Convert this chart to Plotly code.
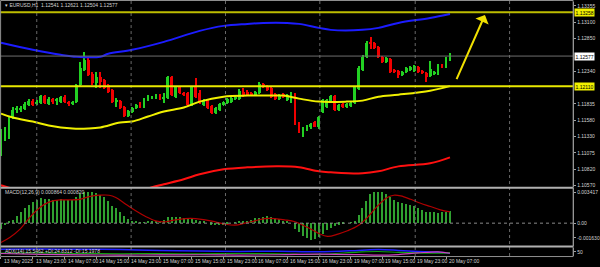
import plotly.graph_objects as go

# ---------------- data ----------------
bars = list(range(114))
opens = [1.11050,1.11282,1.11328,1.11622,1.11746,1.11746,1.11762,1.11823,1.11885,1.11839,
         1.11854,1.11963,1.11839,1.11916,1.11885,1.11870,1.11947,1.11870,1.11839,1.11870,
         1.12133,1.12365,1.12520,1.12303,1.12164,1.12257,1.12210,1.12133,1.12056,1.11870,
         1.11885,1.11792,1.11653,1.11715,1.11777,1.11854,1.11792,1.11916,1.11932,1.11932,
         1.11978,1.11916,1.11932,1.12257,1.11947,1.12102,1.12009,1.12009,1.11823,1.12102,
         1.12009,1.11823,1.11901,1.11808,1.11700,1.11746,1.11823,1.11854,1.11870,1.11916,
         1.11916,1.12025,1.12025,1.12009,1.11978,1.12009,1.12148,1.12117,1.12086,1.11994,
         1.11916,1.11994,1.11901,1.11870,1.11994,1.11545,1.11390,1.11437,1.11468,1.11560,
         1.11468,1.11715,1.11792,1.11870,1.11963,1.11746,1.11839,1.11792,1.11808,1.11854,
         1.12071,1.12365,1.12566,1.12783,1.12783,1.12721,1.12566,1.12489,1.12535,1.12365,
         1.12349,1.12288,1.12334,1.12365,1.12349,1.12411,1.12349,1.12318,1.12272,1.12303,
         1.12303,1.12442,1.12411,1.12541]
highs = [1.11437,1.11483,1.11653,1.11792,1.11808,1.11808,1.11870,1.11916,1.11916,1.11901,
         1.11978,1.11978,1.11947,1.11932,1.11932,1.11963,1.11978,1.11885,1.11885,1.12148,
         1.12489,1.12643,1.12551,1.12334,1.12334,1.12334,1.12226,1.12148,1.12071,1.11932,
         1.11901,1.11808,1.11746,1.11792,1.11839,1.11870,1.11932,1.11978,1.11963,1.11994,
         1.11994,1.12009,1.12272,1.12272,1.12117,1.12117,1.12025,1.12025,1.12117,1.12241,
         1.12056,1.11916,1.11916,1.11823,1.11792,1.11854,1.11885,1.11932,1.11947,1.11963,
         1.12071,1.12086,1.12056,1.12025,1.12040,1.12179,1.12164,1.12133,1.12102,1.12009,
         1.11994,1.12009,1.11994,1.12025,1.12009,1.11560,1.11483,1.11514,1.11545,1.11576,
         1.11653,1.11916,1.11916,1.11978,1.11978,1.11839,1.11854,1.11854,1.11870,1.12117,
         1.12427,1.12597,1.12814,1.12875,1.12798,1.12736,1.12582,1.12566,1.12551,1.12380,
         1.12365,1.12349,1.12411,1.12427,1.12442,1.12427,1.12365,1.12334,1.12504,1.12349,
         1.12458,1.12458,1.12566,1.12621]
lows = [1.11019,1.11251,1.11297,1.11607,1.11700,1.11715,1.11746,1.11808,1.11808,1.11823,
        1.11839,1.11839,1.11823,1.11839,1.11823,1.11854,1.11854,1.11808,1.11823,1.11854,
        1.12117,1.12349,1.12272,1.12133,1.12086,1.12086,1.12071,1.12009,1.11854,1.11792,
        1.11762,1.11638,1.11638,1.11700,1.11762,1.11777,1.11777,1.11885,1.11916,1.11916,
        1.11901,1.11854,1.11916,1.11963,1.11932,1.11994,1.11963,1.11808,1.11808,1.11932,
        1.11839,1.11808,1.11762,1.11684,1.11684,1.11731,1.11808,1.11839,1.11854,1.11901,
        1.11901,1.11947,1.11963,1.11963,1.11963,1.11994,1.12086,1.12040,1.11932,1.11901,
        1.11901,1.11932,1.11885,1.11854,1.11514,1.11375,1.11313,1.11421,1.11452,1.11468,
        1.11452,1.11700,1.11777,1.11854,1.11731,1.11731,1.11777,1.11777,1.11792,1.11839,
        1.12056,1.12349,1.12551,1.12690,1.12690,1.12551,1.12473,1.12473,1.12318,1.12318,
        1.12241,1.12272,1.12318,1.12349,1.12334,1.12318,1.12303,1.12179,1.12257,1.12288,
        1.12288,1.12396,1.12396,1.12504]
closes = [1.11313,1.11359,1.11622,1.11746,1.11762,1.11777,1.11839,1.11885,1.11823,1.11870,
          1.11963,1.11854,1.11916,1.11870,1.11901,1.11947,1.11870,1.11839,1.11870,1.12133,
          1.12396,1.12520,1.12288,1.12164,1.12257,1.12179,1.12086,1.12025,1.11870,1.11885,
          1.11777,1.11653,1.11731,1.11777,1.11823,1.11792,1.11916,1.11947,1.11947,1.11978,
          1.11916,1.11947,1.12257,1.11978,1.12102,1.12009,1.11978,1.11823,1.12102,1.11947,
          1.11854,1.11901,1.11777,1.11700,1.11777,1.11839,1.11870,1.11916,1.11932,1.11947,
          1.12040,1.11978,1.11978,1.11978,1.12025,1.12148,1.12102,1.12056,1.11947,1.11916,
          1.11978,1.11947,1.11978,1.12009,1.11529,1.11390,1.11452,1.11499,1.11529,1.11483,
          1.11638,1.11901,1.11901,1.11963,1.11746,1.11823,1.11792,1.11839,1.11854,1.12102,
          1.12396,1.12566,1.12783,1.12767,1.12705,1.12566,1.12489,1.12551,1.12334,1.12334,
          1.12288,1.12334,1.12396,1.12411,1.12427,1.12334,1.12318,1.12257,1.12380,1.12334,
          1.12442,1.12411,1.12551,1.12577]

# moving averages / bands (sampled along the curves)
yellow_x = [0, 3, 8, 12, 18, 22, 25, 30, 33, 37, 41, 46, 50, 56, 62, 67, 71, 75, 80, 87, 91, 95, 100, 108, 113]
yellow_y = [1.11684, 1.11622, 1.11560, 1.11499, 1.11452, 1.11452, 1.11468, 1.11545, 1.11560, 1.11638,
            1.11715, 1.11777, 1.11870, 1.11947, 1.11963, 1.11963, 1.11963, 1.11916, 1.11870, 1.11870,
            1.11885, 1.11947, 1.11978, 1.12040, 1.12110]
blue_x = [0, 8, 15, 19, 25, 27, 33, 41, 50, 56, 62, 66, 72, 75, 80, 83, 91, 95, 100, 108, 113]
blue_y = [1.12783, 1.12674, 1.12597, 1.12566, 1.12566, 1.12612, 1.12674, 1.12798, 1.12968, 1.13046,
          1.13077, 1.13092, 1.13092, 1.13077, 1.13015, 1.12984, 1.12984, 1.13015, 1.13092, 1.13169, 1.13231]
red_x = [0, 8, 15, 19, 25, 33, 38, 41, 46, 50, 56, 62, 70, 75, 80, 83, 91, 95, 100, 108, 113]
red_y = [1.10570, 1.10447, 1.10462, 1.10338, 1.10369, 1.10447, 1.10539, 1.10586, 1.10663, 1.10741,
         1.10818, 1.10849, 1.10864, 1.10849, 1.10787, 1.10772, 1.10756, 1.10787, 1.10864, 1.10911, 1.11004]

level_top = 1.13258
level_low = 1.12110
bid = 1.12577
arrow_from = (114.5, 1.12195)
arrow_to = (121.8, 1.13216)

price_ticks = [1.13355, 1.13100, 1.12850, 1.12340, 1.11835, 1.11580, 1.11330, 1.11075, 1.10820, 1.10570]
price_tick_labels = ["1.13355", "1.13100", "1.12850", "1.12340", "1.11835", "1.11580", "1.11330",
                     "1.11075", "1.10820", "1.10570"]

macd_hist = [-0.00066,-0.00029,0.00015,0.00037,0.00081,0.00125,0.00162,0.00198,0.00228,0.00257,
             0.00272,0.00264,0.00264,0.00257,0.00257,0.00264,0.00257,0.00257,0.00257,0.00283,
             0.00320,0.00345,0.00345,0.00338,0.00331,0.00309,0.00283,0.00246,0.00191,0.00162,
             0.00118,0.00073,0.00044,0.00026,0.00015,0.00007,0.00007,0.00011,0.00015,0.00026,
             0.00026,0.00037,0.00062,0.00062,0.00062,0.00062,0.00051,0.00044,0.00051,0.00037,
             0.00026,0.00015,0.00000,-0.00022,-0.00029,-0.00029,-0.00029,-0.00011,0.00000,0.00007,
             0.00015,0.00015,0.00026,0.00037,0.00051,0.00051,0.00062,0.00073,0.00062,0.00051,
             0.00044,0.00026,0.00015,0.00000,-0.00066,-0.00103,-0.00140,-0.00169,-0.00184,-0.00176,
             -0.00158,-0.00121,-0.00084,-0.00059,-0.00037,-0.00022,-0.00011,0.00000,0.00007,0.00026,
             0.00088,0.00162,0.00246,0.00320,0.00345,0.00338,0.00338,0.00320,0.00283,0.00257,
             0.00235,0.00220,0.00209,0.00198,0.00184,0.00162,0.00147,0.00125,0.00118,0.00118,
             0.00110,0.00118,0.00125,0.00136]
sig_x = [0, 2.2, 4.8, 7.2, 9.8, 12.2, 14.8, 17.2, 19.8, 22.2, 24.8, 27.2, 28.9, 31.4, 33.9, 36.4,
         38.9, 41.4, 43.9, 46.4, 48.9, 51.4, 53.9, 56.4, 58.9, 61.4, 63.9, 66.4, 68.9, 71.4, 74,
         77.2, 79.8, 82.2, 84.8, 87.2, 89.8, 92.2, 94.8, 97.2, 98.9, 100.6, 103.1, 105.6, 108.1, 110.6, 113]
sig_y = [-0.00213, -0.00158, -0.00066, 0.00062, 0.00173, 0.00235, 0.00257, 0.00257, 0.00264, 0.00294,
         0.00309, 0.00309, 0.00283, 0.00209, 0.00136, 0.00073, 0.00026, 0.00015, 0.00037, 0.00051,
         0.00051, 0.00037, 0.00015, -0.00011, -0.00022, 0.0, 0.00026, 0.00051, 0.00051, 0.00037,
         0.00015, -0.00048, -0.00110, -0.00147, -0.00121, -0.00084, -0.00029, 0.00062, 0.00191,
         0.00283, 0.00309, 0.00301, 0.00264, 0.00220, 0.00184, 0.00147, 0.00125]
macd_ticks = [0.003417, 0.0, -0.00163]
macd_tick_labels = ["0.003417", "0.00", "-0.001630"]

adx_x = [0, 10, 20, 30, 40, 50, 60, 70, 80, 90, 95, 100, 105, 110, 113]
adx_main = [48, 49, 48, 46, 40, 35, 33, 34, 30, 40, 46, 40, 32, 26, 22]
adx_plus = [20, 22, 18, 16, 17, 15, 18, 16, 12, 28, 32, 26, 22, 20, 24]
adx_minus = [18, 12, 8, 7, 8, 9, 7, 9, 14, 10, 6, 10, 22, 30, 20]

time_bars = [0, 8, 16, 24, 32, 40, 48, 56, 64, 72, 80, 88, 96, 104, 112]
time_labels = ["13 May 2025", "13 May 23:00", "14 May 07:00", "14 May 15:00", "14 May 23:00",
               "15 May 07:00", "15 May 15:00", "15 May 23:00", "16 May 07:00", "16 May 15:00",
               "16 May 23:00", "19 May 07:00", "19 May 15:00", "19 May 23:00", "20 May 07:00"]
grid_bars = [9, 32.75, 56.5, 80.25, 104.25, 128]

title_text = "▾ EURUSD,H1  1.12541 1.12621 1.12504 1.12577"
macd_text = "MACD(12,26,9) 0.000864 0.000820"
adx_text = "ADX(14) 15.5462 +DI:24.8312 -DI:15.1978"

# ---------------- figure ----------------
W, H = 600, 267
RIGHT = 577
FONT = "Liberation Sans"
FS = 5
BULL, BEAR = "#22d022", "#f00000"
TXT = "#d4d4d4"
AX = "#a0a0a0"

def py(px):
    return 1 - px / H

colors = [BULL if c >= o else BEAR for o, c in zip(opens, closes)]
body_base = [min(o, c) for o, c in zip(opens, closes)]
body_len = [max(abs(c - o), 0.00003) for o, c in zip(opens, closes)]
wick_len = [h - l for h, l in zip(highs, lows)]

fig = go.Figure()
fig.add_trace(go.Scatter(x=red_x, y=red_y, mode="lines", line=dict(color="#ff1010", width=2, shape="spline"), yaxis="y"))
fig.add_trace(go.Scatter(x=blue_x, y=blue_y, mode="lines", line=dict(color="#1c1cff", width=2, shape="spline"), yaxis="y"))
fig.add_trace(go.Scatter(x=yellow_x, y=yellow_y, mode="lines", line=dict(color="#f0f000", width=2, shape="spline"), yaxis="y"))
fig.add_trace(go.Bar(x=bars, base=lows, y=wick_len, width=0.25, marker=dict(color=colors, line_width=0), yaxis="y"))
fig.add_trace(go.Bar(x=bars, base=body_base, y=body_len, width=0.72, marker=dict(color=colors, line_width=0), yaxis="y"))

fig.add_trace(go.Bar(x=bars, y=macd_hist, width=0.3, marker=dict(color="#30a030", line_width=0), yaxis="y2"))
fig.add_trace(go.Scatter(x=sig_x, y=sig_y, mode="lines", line=dict(color="#b00000", width=1.2, shape="spline"), yaxis="y2"))

fig.add_trace(go.Scatter(x=adx_x, y=adx_main, mode="lines", line=dict(color="#2020ff", width=1.5, shape="spline"), yaxis="y3"))
fig.add_trace(go.Scatter(x=adx_x, y=adx_plus, mode="lines", line=dict(color="#10a010", width=1.2, shape="spline"), yaxis="y3"))
fig.add_trace(go.Scatter(x=adx_x, y=adx_minus, mode="lines", line=dict(color="#d040c0", width=1.2, shape="spline"), yaxis="y3"))

shapes = []
for g in grid_bars:
    shapes.append(dict(type="line", xref="x", yref="paper", x0=g, x1=g, y0=py(257), y1=py(1),
                       line=dict(color="#6a6a6a", width=1, dash="dot")))
xr = RIGHT / W
shapes.append(dict(type="line", xref="paper", yref="y", x0=0, x1=xr, y0=level_top, y1=level_top,
                   line=dict(color="#bcbc00", width=2)))
shapes.append(dict(type="line", xref="paper", yref="y", x0=0, x1=xr, y0=level_low, y1=level_low,
                   line=dict(color="#e8e800", width=2)))
shapes.append(dict(type="line", xref="paper", yref="y", x0=0, x1=xr, y0=bid, y1=bid,
                   line=dict(color="#6e6e6e", width=1)))
shapes.append(dict(type="line", xref="paper", yref="y2", x0=0, x1=xr, y0=0, y1=0,
                   line=dict(color="#8a8a8a", width=1, dash="dot")))
for sep in (188.5, 247.5):
    shapes.append(dict(type="line", xref="paper", yref="paper", x0=0, x1=xr, y0=py(sep), y1=py(sep),
                       line=dict(color="#b0b0b0", width=2)))
shapes.append(dict(type="rect", xref="paper", yref="paper", x0=0.6 / W, x1=xr, y0=py(257.5), y1=py(0.5),
                   line=dict(color="#909090", width=1)))

annotations = [
    dict(x=3 / W, y=py(5), xref="paper", yref="paper", text=title_text, showarrow=False,
         xanchor="left", yanchor="middle", font=dict(family=FONT, size=FS, color=TXT)),
    dict(x=3 / W, y=py(193), xref="paper", yref="paper", text=macd_text, showarrow=False,
         xanchor="left", yanchor="middle", font=dict(family=FONT, size=FS, color=TXT)),
    dict(x=3 / W, y=py(252), xref="paper", yref="paper", text=adx_text, showarrow=False,
         xanchor="left", yanchor="middle", font=dict(family=FONT, size=FS, color=TXT)),
    dict(x=arrow_to[0], y=arrow_to[1], ax=arrow_from[0], ay=arrow_from[1], xref="x", yref="y",
         axref="x", ayref="y", showarrow=True, text="", arrowhead=1, arrowsize=1.2, arrowwidth=2,
         arrowcolor="#f0e000"),
]
for val, bg in ((level_top, "#f0f000"), (bid, "#ffffff"), (level_low, "#f0f000")):
    annotations.append(dict(x=(RIGHT + 1) / W, y=val, xref="paper", yref="y", text=f"{val:.5f}", showarrow=False,
                            xanchor="left", yanchor="middle", bgcolor=bg, borderpad=0.5,
                            font=dict(family=FONT, size=FS, color="#000000")))
for b, t in zip(time_bars, time_labels):
    annotations.append(dict(x=b, y=py(261.5), xref="x", yref="paper", text=t, showarrow=False,
                            xanchor="left", yanchor="middle", xshift=1,
                            font=dict(family=FONT, size=FS, color=TXT)))

yax_common = dict(side="right", anchor="x", showgrid=False, zeroline=False, ticks="outside", ticklen=2,
                  tickcolor=AX, showline=True, linecolor=AX, linewidth=1,
                  tickfont=dict(family=FONT, size=FS, color=TXT))

fig.update_layout(
    width=W, height=H, margin=dict(l=0, r=0, t=0, b=0),
    paper_bgcolor="#000000", plot_bgcolor="#000000",
    showlegend=False, barmode="overlay", bargap=0,
    xaxis=dict(domain=[0, xr], range=[-0.25, (RIGHT - 1) / 4], showgrid=False, zeroline=False,
               tickvals=time_bars, ticks="outside", ticklen=2, tickcolor=AX, showticklabels=False,
               anchor="y3", showline=False),
    yaxis=dict(domain=[py(188), py(2)], range=[1.10539, 1.13417], tickvals=price_ticks,
               ticktext=price_tick_labels, **yax_common),
    yaxis2=dict(domain=[py(247), py(189)], range=[-0.002535, 0.003857], tickvals=macd_ticks,
                ticktext=macd_tick_labels, **yax_common),
    yaxis3=dict(domain=[py(257), py(248.5)], range=[0, 60], tickvals=[30], ticktext=["50"], **yax_common),
    shapes=shapes, annotations=annotations,
)

fig.write_html("out.html")
